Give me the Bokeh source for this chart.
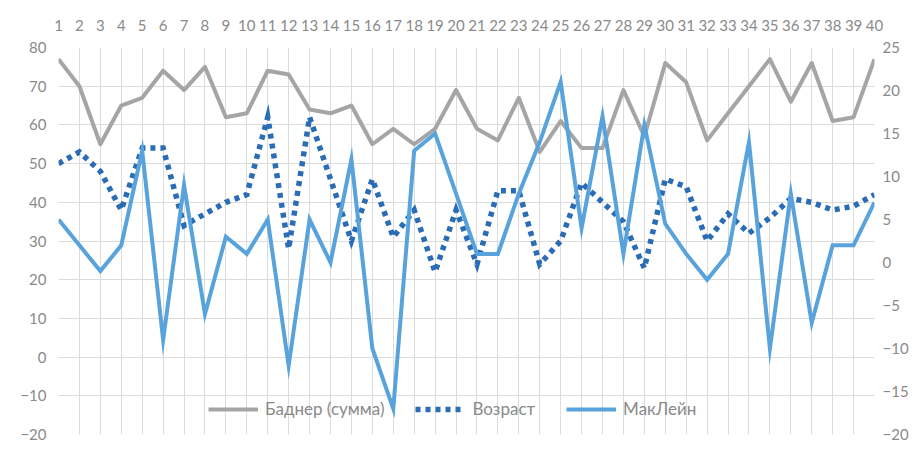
from bokeh.plotting import figure
from bokeh.models import (ColumnDataSource, Range1d, LinearAxis, FixedTicker,
                          Legend, LegendItem)
from bokeh.embed import file_html
from bokeh.resources import INLINE

# ---- data ----
cases = list(range(1, 41))
badner = [77, 70, 55, 65, 67, 74, 69, 75, 62, 63, 74, 73, 64, 63, 65, 55, 59, 55, 59, 69,
          59, 56, 67, 53, 61, 54, 54, 69, 57, 76, 71, 56, 63, 70, 77, 66, 76, 61, 62, 77]
age = [50, 53, 48, 38, 54, 54, 34, 37, 40, 42, 62, 28, 62, 46, 30, 46, 31, 38, 22, 38,
       24, 43, 43, 24, 30, 45, 40, 35, 23, 46, 44, 30, 37, 32, 36, 41, 40, 38, 39, 42]
maclane = [5, 2, -1, 2, 13, -9, 9, -6, 3, 1, 5, -12, 5, 0, 12, -10, -17, 13, 15, 8,
           1, 1, 8, 14, 21, 4, 17, 1, 16, 4.5, 1, -2, 1, 14, -10, 8, -7, 2, 2, 7]
left_ticks = list(range(-20, 81, 10))
right_ticks = list(range(-20, 26, 5))

src = ColumnDataSource(dict(x=cases, badner=badner, age=age, maclane=maclane))

FONT = "Lato"
LABEL_COLOR = "#8a8a8a"
GRID = "#dcdcdc"

p = figure(width=912, height=442, output_backend="svg", toolbar_location=None,
           x_range=Range1d(1, 40), y_range=Range1d(-20, 80),
           x_axis_location="above",
           min_border_left=58, min_border_right=38, min_border_top=47, min_border_bottom=8)
p.extra_y_ranges = {"right": Range1d(-20, 25)}
p.outline_line_color = None
p.background_fill_color = "white"

# axes
p.xaxis.ticker = FixedTicker(ticks=cases)
p.yaxis.ticker = FixedTicker(ticks=left_ticks)
right = LinearAxis(y_range_name="right", ticker=FixedTicker(ticks=right_ticks))
p.add_layout(right, "right")

for ax in [p.xaxis[0], p.yaxis[0], right]:
    ax.axis_line_color = None
    ax.major_tick_line_color = None
    ax.minor_tick_line_color = None
    ax.major_tick_out = 0
    ax.major_tick_in = 0
    ax.major_label_text_font = FONT
    ax.major_label_text_font_size = "15px"
    ax.major_label_text_color = LABEL_COLOR
p.xaxis.major_label_standoff = 17
p.yaxis[0].major_label_standoff = 12
right.major_label_standoff = 8

p.xgrid.ticker = FixedTicker(ticks=cases)
p.xgrid.grid_line_color = GRID
p.ygrid.grid_line_color = GRID
p.xgrid.grid_line_width = 1
p.ygrid.grid_line_width = 1

r1 = p.line("x", "badner", source=src, line_color="#a5a5a5", line_width=4,
            line_join="round")
r2 = p.line("x", "age", source=src, line_color="#2a6cb5", line_width=5.5,
            line_dash="5 5", line_cap="butt", line_join="miter")
r3 = p.line("x", "maclane", source=src, y_range_name="right", line_color="#58a3dc",
            line_width=4, line_join="miter")

legend = Legend(items=[LegendItem(label="Баднер (сумма)", renderers=[r1]),
                       LegendItem(label="Возраст", renderers=[r2]),
                       LegendItem(label="МакЛейн", renderers=[r3])],
                orientation="horizontal", location=(150, 15))
legend.background_fill_alpha = 0
legend.border_line_color = None
legend.padding = 0
legend.margin = 0
legend.spacing = 31
legend.glyph_width = 50
legend.glyph_height = 20
legend.label_standoff = 7
legend.label_text_font = FONT
legend.label_text_font_size = "17px"
legend.label_text_color = LABEL_COLOR
p.add_layout(legend, "center")

open("out.html", "w").write(file_html(p, INLINE))
